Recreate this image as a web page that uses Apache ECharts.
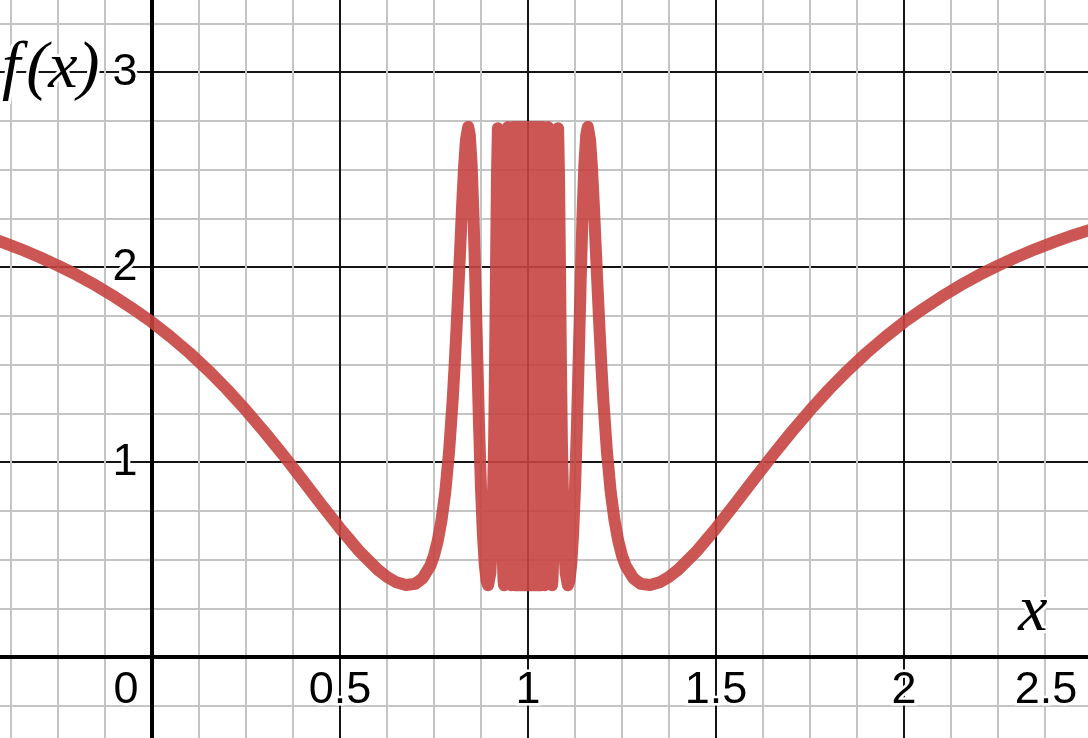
<!DOCTYPE html>
<html><head><meta charset="utf-8">
<script src="https://cdn.jsdelivr.net/npm/echarts@6/dist/echarts.min.js"></script>
<style>html,body{margin:0;padding:0;background:#fff}#c{width:1088px;height:738px}</style>
</head><body><div id="c"></div>
<script>
// curve samples: f(x)
const curveX = [
  -0.5, -0.45, -0.4, -0.35, -0.3, -0.25, -0.2, -0.15, -0.1, -0.05,
  0, 0.05, 0.1, 0.15, 0.2, 0.25, 0.3, 0.35, 0.4, 0.45,
  0.5, 0.55, 0.6, 0.625, 0.65, 0.675, 0.7, 0.72, 0.74, 0.75,
  0.76, 0.77, 0.78, 0.79, 0.8, 0.805, 0.81, 0.815, 0.82, 0.825,
  0.83, 0.835, 0.841, 0.845, 0.85, 0.855, 0.86, 0.865, 0.87, 0.875,
  0.88, 0.885, 0.89, 0.894, 0.9, 0.905, 0.91, 0.9125, 0.915, 0.9175,
  0.92, 0.925, 0.9275, 0.93, 0.9325, 0.935, 0.9363,
  0.947, 0.955, 0.960, 0.965, 0.968, 0.971, 0.974, 0.976, 0.978, 0.980,
  0.982, 0.984, 0.986, 0.988, 0.990, 0.992, 0.994, 0.996, 0.998, 1.000,
  1.002, 1.004, 1.006, 1.008, 1.010, 1.012, 1.014, 1.016, 1.018, 1.020,
  1.022, 1.024, 1.026, 1.029, 1.032, 1.035, 1.040, 1.045, 1.053, 1.0637,
  1.065, 1.0675, 1.07, 1.0725, 1.075, 1.08, 1.0825, 1.085, 1.0875, 1.09,
  1.095, 1.1, 1.106, 1.11, 1.115, 1.12, 1.125, 1.13, 1.135, 1.14,
  1.145, 1.15, 1.155, 1.159, 1.165, 1.17, 1.175, 1.18, 1.185, 1.19,
  1.195, 1.2, 1.21, 1.22, 1.23, 1.24, 1.25, 1.26, 1.28, 1.3,
  1.325, 1.35, 1.375, 1.4, 1.45, 1.5, 1.55, 1.6, 1.65, 1.7,
  1.75, 1.8, 1.85, 1.9, 1.95, 2.0, 2.05, 2.1, 2.15, 2.2,
  2.25, 2.3, 2.35, 2.4, 2.45, 2.5
];
const curveY = [
  2.194, 2.163, 2.129, 2.092, 2.051, 2.007, 1.959, 1.906, 1.848, 1.784,
  1.717, 1.641, 1.559, 1.469, 1.371, 1.265, 1.152, 1.033, 0.909, 0.783,
  0.660, 0.545, 0.449, 0.411, 0.383, 0.369, 0.375, 0.404, 0.467, 0.520,
  0.596, 0.702, 0.846, 1.051, 1.328, 1.499, 1.688, 1.894, 2.108, 2.322,
  2.515, 2.652, 2.718, 2.680, 2.528, 2.265, 1.921, 1.541, 1.175, 0.865,
  0.631, 0.474, 0.388, 0.368, 0.432, 0.636, 1.122, 1.521, 2.005, 2.466,
  2.712, 2.054, 1.401, 0.862, 0.534, 0.387, 0.368,
  2.718, 0.368, 2.718, 0.368, 2.718, 0.368, 2.718, 0.368, 2.718, 0.368,
  2.718, 0.368, 2.718, 0.368, 2.718, 0.368, 2.718, 0.368, 2.718, 0.368,
  2.718, 0.368, 2.718, 0.368, 2.718, 0.368, 2.718, 0.368, 2.718, 0.368,
  2.718, 0.368, 2.718, 0.368, 2.718, 0.368, 2.718, 0.368, 2.718, 0.368,
  0.387, 0.534, 0.862, 1.401, 2.054, 2.712, 2.466, 2.005, 1.521, 1.122,
  0.636, 0.432, 0.368, 0.388, 0.474, 0.631, 0.865, 1.175, 1.541, 1.921,
  2.265, 2.528, 2.680, 2.718, 2.652, 2.515, 2.322, 2.108, 1.894, 1.688,
  1.499, 1.328, 1.051, 0.846, 0.702, 0.596, 0.520, 0.467, 0.404, 0.375,
  0.369, 0.383, 0.411, 0.449, 0.545, 0.660, 0.783, 0.909, 1.033, 1.152,
  1.265, 1.371, 1.469, 1.559, 1.641, 1.717, 1.784, 1.848, 1.906, 1.959,
  2.007, 2.051, 2.092, 2.129, 2.163, 2.194
];
const xTickValues = [0, 0.5, 1, 1.5, 2, 2.5];
const xTickLabels = ['0', '0.5', '1', '1.5', '2', '2.5'];
const yTickValues = [1, 2, 3];
const yTickLabels = ['1', '2', '3'];
const xAxisTitle = 'x';
const yAxisTitle = 'f(x)';

const chart = echarts.init(document.getElementById('c'), null, {renderer: 'canvas'});
const labelFont = {fontSize: 45, fontFamily: '"Liberation Sans", Arial, sans-serif', color: '#000',
  opacity: 1, textBorderColor: '#fff', textBorderWidth: 5};

// label placement (layout only)
const xLabelDy = 34;
function xLabelOffset(i) {
  if (i === 0) return [-26, xLabelDy];
  if (i === xTickValues.length - 1) return [-46, xLabelDy];
  return [0, xLabelDy];
}
const xLabelData = xTickValues.map((v, i) => ({
  value: [v, 0],
  label: {formatter: xTickLabels[i], offset: xLabelOffset(i)}
}));
const yLabelData = yTickValues.map((v, i) => ({
  value: [0, v],
  label: {formatter: yTickLabels[i], offset: [-27, 1]}
}));

const axisCommon = {
  axisLine: {onZero: true, lineStyle: {color: '#000', width: 4}},
  axisTick: {show: false},
  axisLabel: {show: false},
  minorTick: {show: false, splitNumber: 4},
  splitLine: {show: true, lineStyle: {color: '#151515', width: 2}},
  minorSplitLine: {show: true, lineStyle: {color: '#c4c4c4', width: 2}}
};

const labelSeries = (data) => ({
  type: 'scatter', data: data, symbolSize: 1, silent: true, z: 8,
  itemStyle: {color: '#000', opacity: 0},
  label: Object.assign({show: true, position: 'inside', align: 'center', verticalAlign: 'middle'}, labelFont),
  emphasis: {disabled: true}
});

chart.setOption({
  animation: false,
  backgroundColor: '#fff',
  grid: {left: -36, top: -123, width: 1128, height: 975, containLabel: false, outerBoundsMode: 'none'},
  xAxis: Object.assign({type: 'value', min: -0.5, max: 2.5, interval: 0.5}, axisCommon),
  yAxis: Object.assign({type: 'value', min: -1, max: 4, interval: 1}, axisCommon),
  series: [{
    type: 'line',
    data: curveX.map((x, i) => [x, curveY[i]]),
    showSymbol: false,
    symbol: 'none',
    smooth: false,
    silent: true,
    lineStyle: {color: '#c74440', width: 12, opacity: 0.9, join: 'round', cap: 'round'},
    z: 5
  }, labelSeries(xLabelData), labelSeries(yLabelData)],
  graphic: [
    {type: 'text', x: 2, y: 70, z: 10,
      style: {text: '{f|f}{p|(x)}', align: 'left', verticalAlign: 'middle',
        rich: {
          f: {font: 'italic 66px "Liberation Serif", "Times New Roman", serif', fill: '#000', stroke: '#fff', lineWidth: 6, padding: [0, 6, 0, 0]},
          p: {font: 'italic 66px "Liberation Serif", "Times New Roman", serif', fill: '#000', stroke: '#fff', lineWidth: 6}
        }}},
    {type: 'text', x: 1033, y: 613, z: 10,
      style: {text: xAxisTitle, font: 'italic 66px "Liberation Serif", "Times New Roman", serif',
        fill: '#000', stroke: '#fff', lineWidth: 6, align: 'center', verticalAlign: 'middle'}}
  ]
});
</script>
</body></html>
